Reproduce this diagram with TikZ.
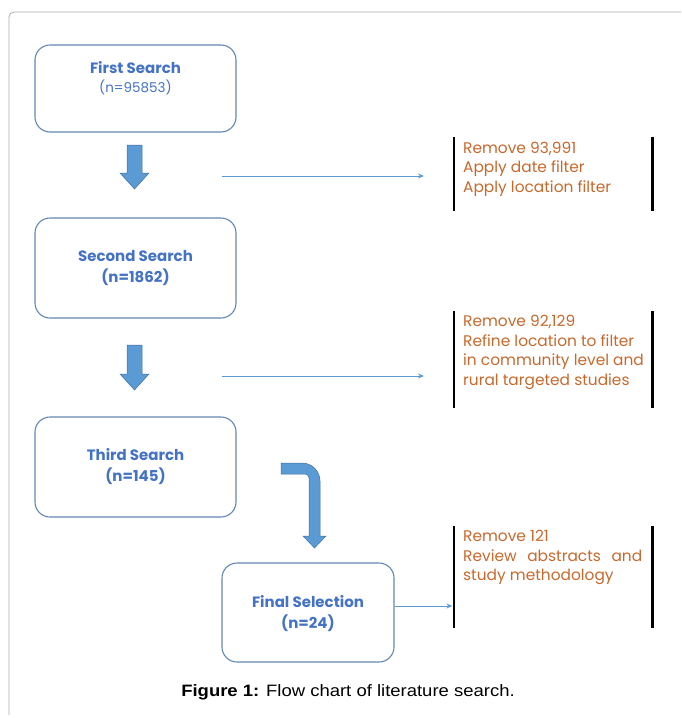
\documentclass[tikz,border=0pt]{standalone}
\usetikzlibrary{arrows.meta}
\usepackage{fontspec}
\setmainfont{Poppins}
\newfontfamily\capfont{Liberation Sans}
\definecolor{boxline}{RGB}{100,135,175}
\definecolor{titleblue}{RGB}{68,114,196}
\definecolor{orangetxt}{RGB}{197,105,45}
\definecolor{arrowfill}{RGB}{91,155,213}
\definecolor{arrowline}{RGB}{65,113,156}
\definecolor{framegray}{RGB}{170,170,170}
\begin{document}
\begin{tikzpicture}[x=1pt,y=-1pt,
  stagebox/.style={draw=boxline,line width=1.1pt,rounded corners=15pt,minimum width=#1,minimum height=100pt,inner sep=0pt},
  stagetext/.style={text=titleblue,font=\bfseries\fontsize{15}{21}\selectfont,align=center,inner sep=0pt},
  notetext/.style={text=orangetxt,font=\fontsize{15.4}{19.6}\selectfont,align=left,anchor=north west,inner sep=0pt},
  bracketbox/.style={inner sep=0pt},
  bracketline/.style={line width=2.6pt,black},
  blockarrow/.style={fill=arrowfill,draw=arrowline,line width=0.5pt},
  thinarrow/.style={arrowfill,line width=0.9pt,-{Stealth[length=6pt,width=5pt]}}
]
\useasboundingbox (0,0) rectangle (681,718);
% outer frame
\draw[framegray,line width=0.8pt] (681,12) -- (14,12) arc[start angle=-90,end angle=-180,radius=5] -- (9,715);

% stage boxes
\node[stagebox=201pt,minimum height=87pt] (b1) at (135.5,88.5) {};
\node[stagetext] (t1) at (135.5,78) {First Search\\[-2pt]{\mdseries\fontsize{13.5}{18}\selectfont(n=95853)}};
\node[stagebox=201pt] (b2) at (135.5,268) {};
\node[stagetext] (t2) at (135.5,268) {Second Search\\(n=1862)};
\node[stagebox=201pt] (b3) at (135.5,467) {};
\node[stagetext] (t3) at (135.5,466.5) {Third Search\\(n=145)};
\node[stagebox=172pt,minimum height=99pt] (b4) at (308,612.5) {};
\node[stagetext] (t4) at (308,614) {Final Selection\\(n=24)};

% block arrows
\draw[blockarrow] (127,145) -- (142,145) -- (142,173) -- (149,173) -- (134.5,189) -- (120,173) -- (127,173) -- cycle;
\draw[blockarrow] (127,345) -- (142,345) -- (142,374) -- (149,374) -- (134.5,390) -- (120,374) -- (127,374) -- cycle;
\draw[blockarrow] (281,463) -- (302,463) arc[start angle=-90,end angle=0,radius=18] -- (320,536) -- (326,536) -- (314.5,548) -- (303,536) -- (309,536) -- (309,478) arc[start angle=0,end angle=-90,radius=4] -- (281,474) -- cycle;

% notes with brackets
\node[bracketbox,minimum width=198pt,minimum height=74pt] (r1) at (553,174) {};
\node[bracketbox,minimum width=198pt,minimum height=97pt] (r2) at (553,359.5) {};
\node[bracketbox,minimum width=198pt,minimum height=102pt] (r3) at (553,577) {};
\foreach \r in {r1,r2,r3}{
  \draw[bracketline] (\r.north west) -- (\r.south west);
  \draw[bracketline] (\r.north east) -- (\r.south east);
}
\node[notetext] (n1) at (463,141.5) {Remove 93,991\\Apply date filter\\Apply location filter};
\node[notetext] (n2) at (463,315) {Remove 92,129\\Refine location to filter\\in community level and\\rural targeted studies};
\node[notetext] (n3) at (463,530) {Remove 121\\\makebox[179pt][s]{Review abstracts and}\\study methodology};

% thin connectors
\coordinate (s1) at (222,176);
\coordinate (e1) at (424,176);
\coordinate (s2) at (222,376);
\coordinate (e2) at (424,376);
\coordinate (e3) at (r3.west |- 0,606);
\draw[thinarrow] (s1) -- (e1);
\draw[thinarrow] (s2) -- (e2);
\draw[thinarrow] (b4.east |- 0,606) -- ([xshift=-1.5pt]e3);

% caption
\node[font=\capfont\fontsize{16.5}{19}\selectfont,inner sep=0pt] (cap) at (348,692) {\scalebox{1.12}[1]{\textbf{Figure 1:} Flow chart of literature search.}};
\end{tikzpicture}
\end{document}
